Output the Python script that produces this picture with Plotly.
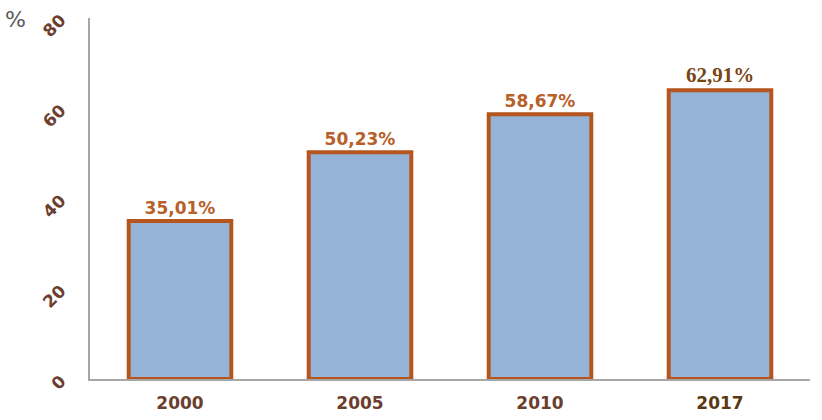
import plotly.graph_objects as go

years = ["2000", "2005", "2010", "2017"]
# bar heights as drawn in the picture (the 2017 bar is drawn slightly taller than its label)
values = [35.01, 50.23, 58.67, 64.0]
value_labels = ["35,01%", "50,23%", "58,67%", "62,91%"]
y_ticks = [0, 20, 40, 60, 80]

tick_text = years[:-1] + ["<span style='color:#5a3812'>" + years[-1] + "</span>"]

fig = go.Figure(
    go.Bar(
        x=years,
        y=values,
        width=0.57,
        marker=dict(color="#95B3D7", line=dict(color="#B5561E", width=4)),
        text=value_labels,
        textposition="outside",
        cliponaxis=False,
        textfont=dict(
            family=["DejaVu Sans", "DejaVu Sans", "DejaVu Sans", "Liberation Serif"],
            size=[17, 17, 17, 21],
            color=["#B8602A", "#B8602A", "#B8602A", "#7A4514"],
            weight="bold",
        ),
    )
)

fig.update_layout(
    width=822,
    height=420,
    margin=dict(l=90, r=12, t=18, b=41),
    plot_bgcolor="white",
    paper_bgcolor="white",
    showlegend=False,
    xaxis=dict(
        type="category",
        tickmode="array",
        tickvals=years,
        ticktext=tick_text,
        showline=True,
        linecolor="#A6A6A6",
        linewidth=1.5,
        showgrid=False,
        ticks="outside",
        ticklen=8,
        tickcolor="rgba(0,0,0,0)",
        automargin=False,
        tickfont=dict(family="DejaVu Sans", size=17, color="#6B3E2E", weight="bold"),
    ),
    yaxis=dict(
        range=[0, 80],
        tickmode="array",
        tickvals=y_ticks,
        ticktext=[str(t) for t in y_ticks],
        showline=True,
        linecolor="#A6A6A6",
        linewidth=1.5,
        showgrid=False,
        zeroline=False,
        ticks="outside",
        ticklen=24,
        tickcolor="rgba(0,0,0,0)",
        tickangle=-45,
        automargin=False,
        tickfont=dict(family="DejaVu Sans", size=17, color="#6B3E2E", weight="bold"),
    ),
    annotations=[
        dict(
            text="%",
            xref="paper",
            yref="paper",
            x=-0.104,
            y=0.995,
            xanchor="center",
            yanchor="middle",
            showarrow=False,
            font=dict(family="DejaVu Sans", size=22, color="#595959"),
        )
    ],
)

fig.write_html(
    "out.html",
    config={"displayModeBar": False},
    post_script="document.body.style.margin='0';document.body.style.padding='0';",
)
